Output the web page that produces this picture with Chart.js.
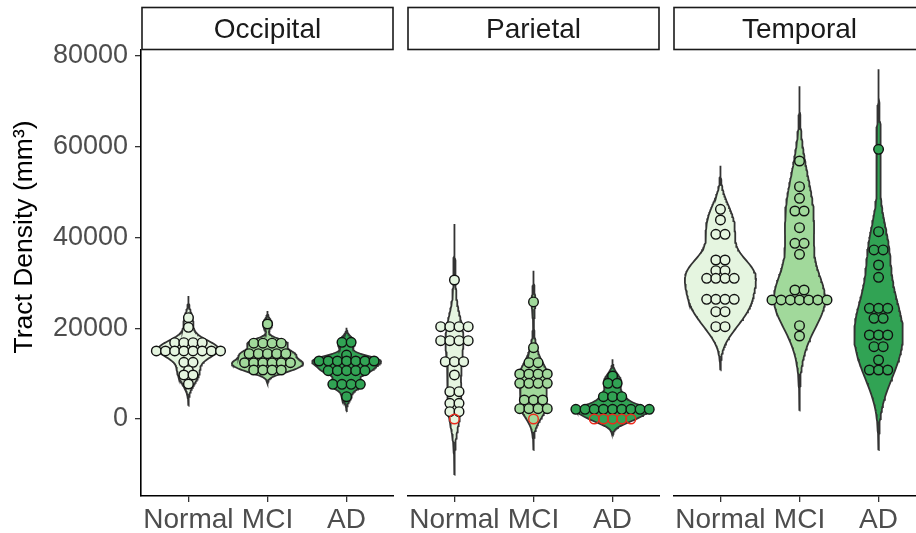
<!DOCTYPE html>
<html>
<head>
<meta charset="utf-8">
<script src="https://cdn.jsdelivr.net/npm/chart.js@4.4.1/dist/chart.umd.min.js"></script>
<style>
  body { margin: 0; width: 916px; height: 533px; overflow: hidden; background: #fff; position: relative; }
  canvas { position: absolute; top: 0; }
</style>
</head>
<body>
<canvas id="occipital" width="394" height="533" style="left:0"></canvas>
<canvas id="parietal" width="253" height="533" style="left:407px"></canvas>
<canvas id="temporal" width="253" height="533" style="left:673px"></canvas>
<script>
const groups = ['Normal', 'MCI', 'AD'];
const regions = ['Occipital', 'Parietal', 'Temporal'];
const groupFills = ['#e5f5e0', '#a1d99b', '#31a354'];
const yTicks = [0, 20000, 40000, 60000, 80000];

// tract density (mm3) per subject
const occipitalNormal = [22330, 20200, 16820, 16820, 16820, 16820, 14990, 14990, 14990, 14990,
  14990, 14990, 14990, 14990, 12490, 12490, 10650, 9700, 9700, 7710];
const occipitalMCI = [20940, 16700, 16700, 16700, 16700, 14400, 14400, 14400, 14400, 14400,
  12400, 12400, 12400, 12400, 12400, 12400, 10800, 10800, 10800, 10800];
const occipitalAD = [16900, 16900, 14100, 12780, 12780, 12780, 12780, 12780, 12780, 12780,
  10650, 10650, 10650, 10650, 10650, 7650, 7650, 7650, 7650, 4920];

const parietalNormal = [30630, 20340, 20340, 20340, 20340, 17260, 17260, 17260, 17260, 12630,
  12630, 12630, 9700, 6020, 6020, 3450, 3450, 1620, 1620, 0];
const parietalMCI = [25790, 15720, 12420, 12420, 9920, 9920, 9920, 9920, 7860, 7860,
  7860, 7860, 4190, 4190, 4190, 2280, 2280, 2280, 2280, 0];
const parietalAD = [9480, 7860, 7860, 4920, 4920, 4920, 2130, 2130, 2130, 2130,
  2130, 2130, 2130, 2130, 2130, 0, 0, 0, 0, 0];

const temporalNormal = [46210, 43860, 40700, 40700, 35040, 35040, 32690, 32690, 31000, 31000,
  31000, 31000, 26370, 26370, 26370, 26370, 23650, 23650, 20340, 20340];
const temporalMCI = [56860, 51200, 48640, 45840, 45840, 42170, 38710, 38710, 36290, 28430,
  28430, 26230, 26230, 26230, 26230, 26230, 26230, 26230, 20570, 18290];
const temporalAD = [59430, 41290, 37250, 37250, 33940, 31220, 24390, 24390, 24390, 22180,
  22180, 18510, 18510, 18510, 15940, 15940, 13000, 10800, 10800, 10800];

const FONT = '"Liberation Sans", Arial, sans-serif';
const DOT_STEP = 0.116;   // horizontal spacing of stacked dots, in x units
Chart.defaults.font.family = FONT;

function quantile(sorted, p) {
  const h = (sorted.length - 1) * p;
  const lo = Math.floor(h);
  const hi = Math.min(lo + 1, sorted.length - 1);
  return sorted[lo] + (h - lo) * (sorted[hi] - sorted[lo]);
}

// Silverman's rule of thumb (R's bw.nrd0)
function bandwidth(values) {
  const n = values.length;
  const sorted = [...values].sort((a, b) => a - b);
  const mean = values.reduce((s, v) => s + v, 0) / n;
  const sd = Math.sqrt(values.reduce((s, v) => s + (v - mean) ** 2, 0) / (n - 1));
  const iqr = quantile(sorted, 0.75) - quantile(sorted, 0.25);
  const lo = Math.min(sd, iqr / 1.34) || sd || 1;
  return 0.9 * lo * Math.pow(n, -0.2);
}

// gaussian kernel density, extended 3 bandwidths past the data
function density(values) {
  const bw = bandwidth(values);
  const lo = Math.min(...values) - 3 * bw;
  const hi = Math.max(...values) + 3 * bw;
  const steps = 160;
  const ys = [], ds = [];
  for (let i = 0; i < steps; i++) {
    const y = lo + (hi - lo) * i / (steps - 1);
    let sum = 0;
    for (const v of values) {
      const z = (y - v) / bw;
      sum += Math.exp(-0.5 * z * z);
    }
    ys.push(y);
    ds.push(sum / (values.length * bw * Math.sqrt(2 * Math.PI)));
  }
  return { ys, ds };
}

// centred dot stacks, one stack per distinct value
function stackDots(values, centre) {
  const counts = new Map();
  values.forEach(v => counts.set(v, (counts.get(v) || 0) + 1));
  const pts = [];
  counts.forEach((n, v) => {
    for (let i = 0; i < n; i++) pts.push({ x: centre + (i - (n - 1) / 2) * DOT_STEP, y: v });
  });
  return pts;
}

const stripPlugin = {
  id: 'strip',
  afterDraw(chart, args, opts) {
    const { ctx, chartArea } = chart;
    ctx.save();
    ctx.fillStyle = '#fff';
    ctx.strokeStyle = '#1a1a1a';
    ctx.lineWidth = 1.6;
    ctx.fillRect(chartArea.left + 1, 7.5, chartArea.right - chartArea.left - 2, 42);
    ctx.strokeRect(chartArea.left + 1, 7.5, chartArea.right - chartArea.left - 2, 42);
    ctx.fillStyle = '#1a1a1a';
    ctx.font = '28px ' + FONT;
    ctx.textAlign = 'center';
    ctx.textBaseline = 'middle';
    ctx.fillText(opts.text, (chartArea.left + chartArea.right) / 2, 30);
    ctx.restore();
  }
};

const yTitlePlugin = {
  id: 'yTitle',
  afterDraw(chart, args, opts) {
    if (!opts.text) return;
    const ctx = chart.ctx;
    ctx.save();
    ctx.translate(25, 237);
    ctx.rotate(-Math.PI / 2);
    ctx.fillStyle = '#000';
    ctx.font = '26.5px ' + FONT;
    ctx.textAlign = 'center';
    ctx.textBaseline = 'middle';
    ctx.fillText(opts.text, 0, 0);
    ctx.restore();
  }
};

function drawPanel(id, region, samples, showY) {
  const dens = samples.map(density);
  const peak = Math.max(...dens.map(d => Math.max(...d.ds)));
  const datasets = [];

  samples.forEach((vals, g) => {
    const centre = g + 1;
    const { ys, ds } = dens[g];
    const right = ys.map((y, i) => ({ x: centre + 0.45 * ds[i] / peak, y }));
    const left = ys.map((y, i) => ({ x: centre - 0.45 * ds[i] / peak, y })).reverse();
    datasets.push({
      data: right.concat(left, [right[0]]),
      fill: 'shape',
      backgroundColor: groupFills[g],
      borderColor: '#333333',
      borderWidth: 1.8,
      pointRadius: 0,
      tension: 0,
      order: 2
    });
    datasets.push({
      data: stackDots(vals, centre),
      showLine: false,
      pointRadius: 4.8,
      pointBorderWidth: 1.4,
      pointBackgroundColor: c => (c.raw && c.raw.y === 0) ? 'rgba(0,0,0,0)' : groupFills[g],
      pointBorderColor: c => (c.raw && c.raw.y === 0) ? '#ee2a1c' : '#111111',
      order: 1
    });
  });

  new Chart(document.getElementById(id), {
    type: 'line',
    data: { datasets },
    plugins: [stripPlugin, yTitlePlugin],
    options: {
      responsive: false,
      animation: false,
      devicePixelRatio: 1,
      layout: { autoPadding: false, padding: { top: 50, left: 0, right: 0, bottom: 0 } },
      plugins: {
        legend: { display: false },
        tooltip: { enabled: false },
        strip: { text: region },
        yTitle: { text: showY ? 'Tract Density (mm³)' : '' }
      },
      scales: {
        x: {
          type: 'linear',
          min: 0.4,
          max: 3.6,
          afterBuildTicks: s => { s.ticks = [1, 2, 3].map(value => ({ value })); },
          afterFit: s => { s.height = 37; s.paddingRight = 0; s.paddingLeft = 0; },
          grid: { drawOnChartArea: false, drawTicks: true, tickLength: 6, color: '#333', lineWidth: 1.3 },
          border: { display: true, color: '#000', width: 1.6 },
          ticks: {
            callback: v => groups[v - 1],
            color: '#4d4d4d',
            font: { size: 28 },
            padding: 1,
            maxRotation: 0,
            autoSkip: false
          }
        },
        y: {
          display: showY,
          min: -16970,
          max: 81320,
          afterBuildTicks: s => { s.ticks = yTicks.map(value => ({ value })); },
          afterFit: s => { s.width = showY ? 141 : 0; s.paddingTop = 0; s.paddingBottom = 0; },
          grid: { drawOnChartArea: false, drawTicks: true, tickLength: 6, color: '#333', lineWidth: 1.3 },
          border: { display: true, color: '#000', width: 1.6 },
          ticks: {
            callback: v => String(v),
            color: '#4d4d4d',
            font: { size: 27 },
            padding: 7
          }
        }
      }
    }
  });
}

drawPanel('occipital', regions[0], [occipitalNormal, occipitalMCI, occipitalAD], true);
drawPanel('parietal', regions[1], [parietalNormal, parietalMCI, parietalAD], false);
drawPanel('temporal', regions[2], [temporalNormal, temporalMCI, temporalAD], false);
</script>
</body>
</html>
